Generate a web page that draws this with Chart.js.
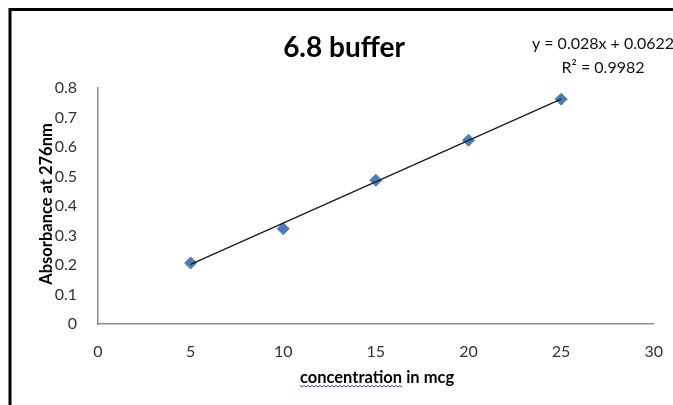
<!DOCTYPE html>
<html>
<head>
<meta charset="utf-8">
<script src="https://cdn.jsdelivr.net/npm/chart.js@4"></script>
<style>
  body { margin: 0; background: #fff; }
  canvas { display: block; }
</style>
</head>
<body>
<canvas id="chart" width="673" height="405"></canvas>
<script>
const concentrations = [5, 10, 15, 20, 25];
const absorbance = [0.207, 0.323, 0.487, 0.623, 0.762];
const trendX = [5, 25];
const trendY = [0.2022, 0.7622];
const yTicks = [0, 0.1, 0.2, 0.3, 0.4, 0.5, 0.6, 0.7, 0.8];
const xTicks = [0, 5, 10, 15, 20, 25, 30];

const chartTitle = '6.8 buffer';
const xTitle = 'concentration in mcg';
const yTitle = 'Absorbance at 276nm';
const equation = 'y = 0.028x + 0.0622';
const rSquared = 'R\u00b2 = 0.9982';

const FONT = 'Lato, "Open Sans", sans-serif';

// frame, titles, equation label
const decorations = {
    id: 'decorations',
    beforeDraw(chart) {
        const ctx = chart.ctx;
        ctx.save();
        ctx.fillStyle = '#fff';
        ctx.fillRect(0, 0, chart.width, chart.height);
        ctx.strokeStyle = '#000';
        ctx.lineWidth = 3;
        ctx.beginPath();
        ctx.moveTo(10, chart.height);
        ctx.lineTo(10, 9.5);
        ctx.lineTo(chart.width, 9.5);
        ctx.stroke();
        ctx.restore();
    },
    afterDraw(chart) {
        const ctx = chart.ctx;
        ctx.save();
        ctx.fillStyle = '#000';
        ctx.textAlign = 'center';
        ctx.textBaseline = 'middle';

        ctx.font = 'bold 28px ' + FONT;
        ctx.fillText(chartTitle, 344, 48);

        ctx.fillStyle = '#111';
        ctx.font = '16px ' + FONT;
        ctx.fillText(equation, 603, 44);
        ctx.fillText(rSquared, 603, 68);

        ctx.fillStyle = '#000';
        ctx.font = 'bold 16.5px ' + FONT;
        ctx.textAlign = 'left';
        const xw = ctx.measureText(xTitle).width;
        const x0 = 377 - xw / 2;
        ctx.fillText(xTitle, x0, 378);
        // spell-check squiggle under the first word
        const ww = ctx.measureText('concentration').width;
        ctx.strokeStyle = '#2b3fe0';
        ctx.lineWidth = 1;
        ctx.beginPath();
        for (let i = 0; i <= ww; i += 2) {
            const yy = 385.5 + ((i / 2) % 2 === 0 ? 0 : 1.5);
            if (i === 0) ctx.moveTo(x0 + i, yy); else ctx.lineTo(x0 + i, yy);
        }
        ctx.stroke();

        ctx.translate(47, 204);
        ctx.rotate(-Math.PI / 2);
        ctx.textAlign = 'center';
        ctx.font = 'bold 16.5px ' + FONT;
        ctx.fillText(yTitle, 0, 0);
        ctx.restore();
    }
};

new Chart(document.getElementById('chart'), {
    type: 'scatter',
    data: {
        datasets: [{
            label: 'data',
            data: concentrations.map((x, i) => ({ x: x, y: absorbance[i] })),
            backgroundColor: '#4a7ebb',
            borderColor: '#4a7ebb',
            pointStyle: 'rectRot',
            pointRadius: 6,
            order: 1
        }, {
            label: 'trend',
            type: 'line',
            data: trendX.map((x, i) => ({ x: x, y: trendY[i] })),
            borderColor: '#1a1a1a',
            borderWidth: 1.3,
            pointRadius: 0,
            fill: false,
            order: 0
        }]
    },
    options: {
        responsive: false,
        animation: false,
        layout: { padding: { left: 0, right: 8, top: 88, bottom: 0 } },
        plugins: {
            legend: { display: false },
            tooltip: { enabled: false }
        },
        scales: {
            x: {
                type: 'linear',
                min: 0,
                max: 30,
                afterBuildTicks: s => { s.ticks = xTicks.map(v => ({ value: v })); },
                afterFit: s => { s.height = 81; },
                grid: { display: false },
                border: { display: true, color: '#8c8c8c', width: 1.5 },
                ticks: {
                    padding: 10,
                    color: '#333',
                    font: { family: FONT, size: 16 },
                    maxRotation: 0
                }
            },
            y: {
                min: 0,
                max: 0.8,
                afterBuildTicks: s => { s.ticks = yTicks.map(v => ({ value: v })); },
                afterFit: s => { s.width = 98; },
                grid: { display: false },
                border: { display: true, color: '#8c8c8c', width: 1.5 },
                ticks: {
                    padding: 13,
                    color: '#333',
                    font: { family: FONT, size: 16 },
                    callback: v => String(Math.round(v * 10) / 10)
                }
            }
        }
    },
    plugins: [decorations]
});
</script>
</body>
</html>
